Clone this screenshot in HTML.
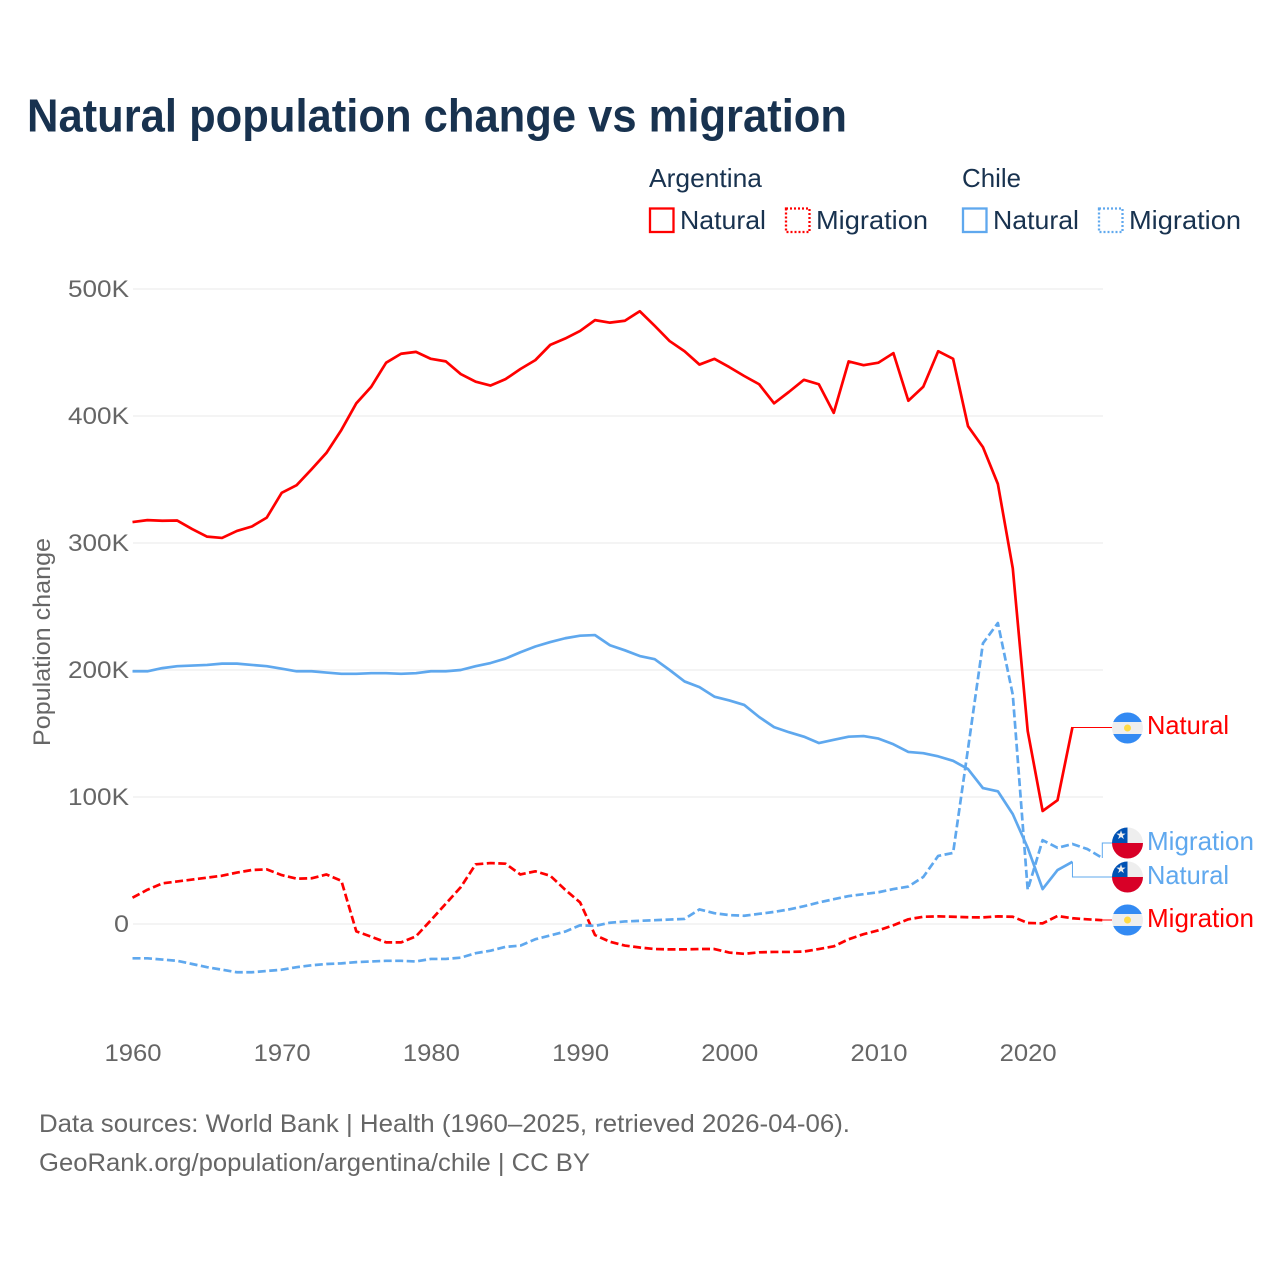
<!DOCTYPE html>
<html>
<head>
<meta charset="utf-8">
<style>
html,body{margin:0;padding:0;background:#fff}
svg{display:block}
text{font-family:"Liberation Sans",sans-serif}
</style>
</head>
<body>
<svg id="chart" width="1280" height="1280" viewBox="0 0 1280 1280" xmlns="http://www.w3.org/2000/svg">
<rect width="1280" height="1280" fill="#fff"/>
<text x="27" y="131.500" font-size="46" font-weight="700" fill="#18324f" textLength="820" lengthAdjust="spacingAndGlyphs">Natural population change vs migration</text>

<g font-size="26" fill="#18324f">
<text x="649" y="187" textLength="113" lengthAdjust="spacingAndGlyphs">Argentina</text>
<text x="962" y="187" textLength="59" lengthAdjust="spacingAndGlyphs">Chile</text>
<g>
<rect x="650" y="208.500" width="23.500" height="23.500" fill="none" stroke="#ff0000" stroke-width="2.300"/>
<text x="680" y="229" textLength="86" lengthAdjust="spacingAndGlyphs">Natural</text>
</g>
<g>
<rect x="786" y="208.500" width="23.500" height="23.500" fill="none" stroke="#ff0000" stroke-width="2.300" stroke-dasharray="2 2"/>
<text x="816" y="229" textLength="112" lengthAdjust="spacingAndGlyphs">Migration</text>
</g>
<g>
<rect x="963" y="208.500" width="23.500" height="23.500" fill="none" stroke="#5fa8ee" stroke-width="2.300"/>
<text x="993" y="229" textLength="86" lengthAdjust="spacingAndGlyphs">Natural</text>
</g>
<g>
<rect x="1099" y="208.500" width="23.500" height="23.500" fill="none" stroke="#5fa8ee" stroke-width="2.300" stroke-dasharray="2 2"/>
<text x="1129" y="229" textLength="112" lengthAdjust="spacingAndGlyphs">Migration</text>
</g>
</g>

<text transform="translate(50,642) rotate(-90)" text-anchor="middle" font-size="24" fill="#666666" textLength="208" lengthAdjust="spacingAndGlyphs">Population change</text>

<g id="grid"></g>
<g id="yticks"></g>
<g id="xticks"></g>
<g id="connectors"></g>
<g id="series"></g>

<defs>
<clipPath id="flag-clip-1"><circle cx="1127.500" cy="728" r="15.500"/></clipPath>
<clipPath id="flag-clip-2"><circle cx="1127.500" cy="843" r="15.500"/></clipPath>
<clipPath id="flag-clip-3"><circle cx="1127.500" cy="877" r="15.500"/></clipPath>
<clipPath id="flag-clip-4"><circle cx="1127.500" cy="920" r="15.500"/></clipPath>
</defs>

<g>
<g clip-path="url(#flag-clip-1)">
<rect x="1112" y="712" width="31" height="32" fill="#eeeeee"/>
<rect x="1112" y="712" width="31" height="10" fill="#338af3"/>
<rect x="1112" y="734" width="31" height="10" fill="#338af3"/>
<circle cx="1127.500" cy="728" r="3.500" fill="#ffda44"/>
</g>
<text x="1147" y="734" font-size="26" fill="#ff0000" textLength="82" lengthAdjust="spacingAndGlyphs">Natural</text>
</g>

<g>
<g clip-path="url(#flag-clip-2)">
<rect x="1112" y="827" width="31" height="16" fill="#eeeeee"/>
<rect x="1112" y="843" width="31" height="16" fill="#d80027"/>
<rect x="1112" y="827" width="15.500" height="16" fill="#0052b4"/>
<text x="1121" y="839" font-size="12" text-anchor="middle" fill="#eeeeee" font-family="DejaVu Sans">★</text>
</g>
<text x="1147" y="850" font-size="26" fill="#5fa8ee" textLength="107" lengthAdjust="spacingAndGlyphs">Migration</text>
</g>

<g>
<g clip-path="url(#flag-clip-3)">
<rect x="1112" y="861" width="31" height="16" fill="#eeeeee"/>
<rect x="1112" y="877" width="31" height="16" fill="#d80027"/>
<rect x="1112" y="861" width="15.500" height="16" fill="#0052b4"/>
<text x="1121" y="873" font-size="12" text-anchor="middle" fill="#eeeeee" font-family="DejaVu Sans">★</text>
</g>
<text x="1147" y="884" font-size="26" fill="#5fa8ee" textLength="82" lengthAdjust="spacingAndGlyphs">Natural</text>
</g>

<g>
<g clip-path="url(#flag-clip-4)">
<rect x="1112" y="904" width="31" height="32" fill="#eeeeee"/>
<rect x="1112" y="904" width="31" height="10" fill="#338af3"/>
<rect x="1112" y="926" width="31" height="10" fill="#338af3"/>
<circle cx="1127.500" cy="920" r="3.500" fill="#ffda44"/>
</g>
<text x="1147" y="927" font-size="26" fill="#ff0000" textLength="107" lengthAdjust="spacingAndGlyphs">Migration</text>
</g>

<g font-size="25" fill="#666666">
<text x="39" y="1132" textLength="811" lengthAdjust="spacingAndGlyphs">Data sources: World Bank | Health (1960–2025, retrieved 2026-04-06).</text>
<text x="39" y="1171" textLength="551" lengthAdjust="spacingAndGlyphs">GeoRank.org/population/argentina/chile | CC BY</text>
</g>
</svg>

<script>
const startYear = 1960;
const yTickValues = [0, 100, 200, 300, 400, 500];
const yTickLabels = ['0', '100K', '200K', '300K', '400K', '500K'];
const xTickYears = [1960, 1970, 1980, 1990, 2000, 2010, 2020];
const argentinaNatural = [316.5,318,317.5,317.7,311,305,304,309.5,313,320,339.5,345.5,358,371,389,410,423,442,449,450.5,445,443,433,427,424,429,437,444,456,461,467,475.5,473.5,475,482.5,471,459,451,440.5,445,438.5,431.5,425,410,419,428.5,425,402.5,443,440,442,449.5,412,423,451,445,392,375.5,346.5,280,152,89,97.5,155];
const argentinaMigration = [20.7,27,32,33.5,35,36.5,38,40.5,42.5,43,38.5,35.7,36,39,34,-5.8,-10,-14.5,-14.5,-9.7,3,16,29,47,48,47.5,39,41.5,38,27,17,-8.7,-14,-17,-18.5,-19.7,-20,-20,-19.7,-19.7,-22.5,-23.5,-22.3,-22,-22,-21.7,-19.7,-17.6,-12,-8,-5,-1,3.7,5.7,6,5.7,5.3,5.2,6,5.7,0.8,0.5,6.3,4.5,3.7,3];
const chileNatural = [199,199,201.5,203,203.5,204,205,205,204,203,201,199,199,198,197,197,197.5,197.5,197,197.5,199,199,200,203,205.5,209,214,218.5,222,225,227,227.5,219.5,215.5,211,208.5,200,191,186.5,179,176,172.5,163,155,151,147.5,142.5,145,147.5,148,146,141.5,135.5,134.5,132,128.5,122,107,104.5,86.5,60,27.5,42.5,49];
const chileMigration = [-27,-27,-28,-29,-31.5,-34,-36,-38,-38,-37,-36,-34,-32.5,-31.5,-31,-30,-29.5,-29,-29,-29.5,-27.5,-27.5,-26.5,-23,-21,-18,-17,-12,-9,-6,-1,-1.5,1,2,2.5,3,3.5,4,11.5,8.5,7,6.5,8,9.5,11.5,14,17,19.5,22,23.5,25,27.5,29.5,37,53.6,56,138,221,237,180.5,27,66,60,63,59,52];

const NS = 'http://www.w3.org/2000/svg';
const RED = '#ff0000';
const BLUE = '#5fa8ee';

function xScale(year) { return 132.5 + (year - 1960) * 14.92; }
function yScale(v) { return 924 - v * 1.27; }

function make(tag, attrs, parent) {
  const el = document.createElementNS(NS, tag);
  for (const k in attrs) el.setAttribute(k, attrs[k]);
  parent.appendChild(el);
  return el;
}

const gridGroup = document.getElementById('grid');
const yTickGroup = document.getElementById('yticks');
const xTickGroup = document.getElementById('xticks');
const seriesGroup = document.getElementById('series');
const connectorGroup = document.getElementById('connectors');

yTickValues.forEach(function (v, i) {
  const line = make('line', {x1: 133, x2: 1103, y1: yScale(v), y2: yScale(v), stroke: '#e8e8e8', 'stroke-width': 1}, gridGroup);
  
  
  const label = make('text', {x: 129, y: yScale(v) + 8, 'text-anchor': 'end', 'font-size': 24, fill: '#666666'}, yTickGroup);
  
  
  label.setAttribute('textLength', v === 0 ? 15 : 61);
  label.setAttribute('lengthAdjust', 'spacingAndGlyphs');
  label.textContent = yTickLabels[i];
});

xTickYears.forEach(function (yr) {
  const label = make('text', {x: xScale(yr) + 0.5, y: 1061, 'text-anchor': 'middle', 'font-size': 24, fill: '#666666'}, xTickGroup);
  
  
  label.setAttribute('textLength', 57);
  label.setAttribute('lengthAdjust', 'spacingAndGlyphs');
  label.textContent = String(yr);
});

function pathFrom(values) {
  return values.map(function (v, i) {
    return (i ? 'L' : 'M') + xScale(startYear + i).toFixed(2) + ' ' + yScale(v).toFixed(2);
  }).join('');
}

function endPoint(values) {
  const i = values.length - 1;
  return [xScale(startYear + i), yScale(values[i])];
}

const argNatLine = make('path', {d: pathFrom(argentinaNatural), fill: 'none', stroke: RED, 'stroke-width': 2.7, 'stroke-linejoin': 'round'}, seriesGroup);



const argMigLine = make('path', {d: pathFrom(argentinaMigration), fill: 'none', stroke: RED, 'stroke-width': 2.7, 'stroke-dasharray': '8 3.5', 'stroke-linejoin': 'round'}, seriesGroup);



const chiNatLine = make('path', {d: pathFrom(chileNatural), fill: 'none', stroke: BLUE, 'stroke-width': 2.7, 'stroke-linejoin': 'round'}, seriesGroup);



const chiMigLine = make('path', {d: pathFrom(chileMigration), fill: 'none', stroke: BLUE, 'stroke-width': 2.7, 'stroke-dasharray': '8 3.5', 'stroke-linejoin': 'round'}, seriesGroup);



function connectorPath(values, labelY) {
  const p = endPoint(values);
  return 'M' + p[0].toFixed(2) + ' ' + p[1].toFixed(2) + 'V' + labelY + 'H1112';
}

const argNatConn = make('path', {d: connectorPath(argentinaNatural, 727.5), fill: 'none', stroke: RED, 'stroke-width': 1}, connectorGroup);



const chiMigConn = make('path', {d: connectorPath(chileMigration, 843), fill: 'none', stroke: BLUE, 'stroke-width': 1}, connectorGroup);



const chiNatConn = make('path', {d: connectorPath(chileNatural, 877), fill: 'none', stroke: BLUE, 'stroke-width': 1}, connectorGroup);



const argMigConn = make('path', {d: connectorPath(argentinaMigration, 920), fill: 'none', stroke: RED, 'stroke-width': 1}, connectorGroup);


</script>
</body>
</html>
